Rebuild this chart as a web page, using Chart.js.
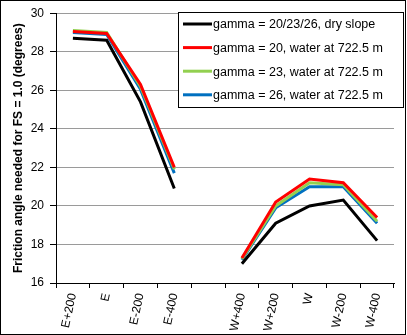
<!DOCTYPE html>
<html>
<head>
<meta charset="utf-8">
<script src="https://cdn.jsdelivr.net/npm/chart.js@4"></script>
<style>
  body { margin: 0; background: #fff; }
  #wrap { width: 407px; height: 335px; }
</style>
</head>
<body>
<div id="wrap"><canvas id="grafica"></canvas></div>
<script>
// --- Datos ---
const categorias = ['E+200', 'E', 'E-200', 'E-400', '', 'W+400', 'W+200', 'W', 'W-200', 'W-400'];
const seco = [28.7, 28.6, 25.4, 20.9, null, 17.0, 19.1, 20.0, 20.3, 18.2];
const agua20 = [29.05, 28.95, 26.3, 22.0, null, 17.3, 20.2, 21.4, 21.2, 19.4];
const agua23 = [29.1, 29.0, 26.2, 21.9, null, 17.25, 20.0, 21.2, 21.1, 19.2];
const agua26 = [29.0, 28.9, 26.05, 21.7, null, 17.2, 19.9, 21.0, 21.0, 19.1];
const etiquetas = ['gamma = 20/23/26, dry slope', 'gamma = 20, water at 722.5 m', 'gamma = 23, water at 722.5 m', 'gamma = 26, water at 722.5 m'];
const colores = ['#000000', '#ff0000', '#92d050', '#0070c0'];
const yTicks = [16, 18, 20, 22, 24, 26, 28, 30];

const series = [seco, agua20, agua23, agua26];
const datasets = series.map((d, i) => ({
  label: etiquetas[i],
  data: d,
  borderColor: colores[i],
  backgroundColor: colores[i],
  borderWidth: 3,
  pointRadius: 0,
  tension: 0,
  spanGaps: false
}));

// leyenda con caja y borde exterior
const leyendaCaja = {
  id: 'leyendaCaja',
  afterDraw(chart) {
    const ctx = chart.ctx;
    ctx.save();
    ctx.strokeStyle = '#000';
    ctx.lineWidth = 1;
    ctx.strokeRect(0.5, 0.5, chart.width - 2, chart.height - 1);

    const x0 = 178, y0 = 12, w = 225, h = 95;
    ctx.fillStyle = '#fff';
    ctx.fillRect(x0, y0, w, h);
    ctx.strokeRect(x0 + 0.5, y0 + 0.5, w, h);

    ctx.font = '12.5px "Liberation Sans", Arial, sans-serif';
    ctx.textBaseline = 'middle';
    chart.data.datasets.forEach((ds, i) => {
      const y = 24 + i * 23.6;
      ctx.strokeStyle = ds.borderColor;
      ctx.lineWidth = 3;
      ctx.beginPath();
      ctx.moveTo(183, y);
      ctx.lineTo(212, y);
      ctx.stroke();
      ctx.fillStyle = '#000';
      ctx.fillText(ds.label, 213, y + 1);
    });
    ctx.restore();
  }
};

new Chart(document.getElementById('grafica'), {
  type: 'line',
  data: { labels: categorias, datasets },
  options: {
    responsive: true,
    maintainAspectRatio: false,
    animation: false,
    layout: { padding: { top: 12, right: 13, left: 0, bottom: 0 } },
    plugins: { legend: { display: false }, tooltip: { enabled: false } },
    scales: {
      x: {
        offset: true,
        grid: { offset: true, drawOnChartArea: false, color: '#000', tickLength: 5 },
        border: { color: '#000', width: 1 },
        ticks: {
          color: '#000',
          font: { family: '"Liberation Sans", Arial, sans-serif', size: 12 },
          minRotation: 78,
          maxRotation: 78,
          autoSkip: false,
          padding: 4
        },
        afterFit(scale) { scale.height = 52; }
      },
      y: {
        min: 16,
        max: 30,
        afterBuildTicks(scale) { scale.ticks = yTicks.map(v => ({ value: v })); },
        grid: {
          color: '#9a9a9a',
          tickColor: '#000',
          tickLength: 6,
          lineWidth: 1
        },
        border: { color: '#000', width: 1 },
        ticks: {
          color: '#000',
          font: { family: '"Liberation Sans", Arial, sans-serif', size: 12 },
          padding: 6
        },
        title: {
          display: true,
          text: 'Friction angle needed for FS = 1.0 (degrees)',
          color: '#000',
          font: { family: '"Liberation Sans", Arial, sans-serif', size: 12, weight: 'bold' },
          padding: { top: 11, bottom: 0 }
        },
        afterFit(scale) { scale.width = 56; }
      }
    }
  },
  plugins: [leyendaCaja]
});
</script>
</body>
</html>
